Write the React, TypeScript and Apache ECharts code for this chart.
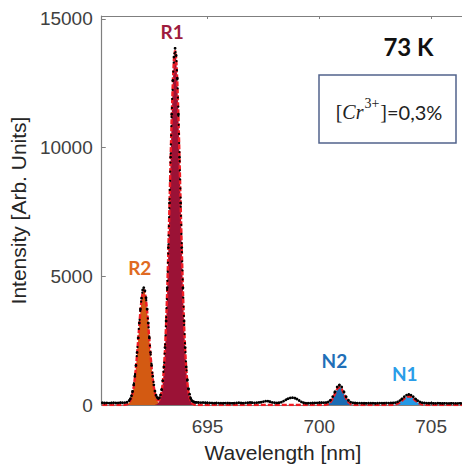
import React, { useEffect, useRef } from "react";
import * as echarts from "echarts";

// Measured luminescence spectrum at 73 K: [wavelength (nm), intensity]
const measured: [number, number][] = [
  [690.3, 85], [690.4, 78], [690.5, 82], [690.6, 74], [690.7, 80], [690.8, 88], [690.9, 79],
  [691.0, 84], [691.1, 90], [691.2, 86], [691.3, 92], [691.4, 106], [691.5, 173],
  [691.55, 245], [691.6, 360], [691.65, 532], [691.7, 779], [691.75, 1115], [691.8, 1536],
  [691.85, 2042], [691.9, 2607], [691.95, 3185], [692.0, 3727], [692.05, 4150], [692.1, 4470],
  [692.15, 4560], [692.2, 4440], [692.25, 4166], [692.3, 3727], [692.35, 3185], [692.4, 2607],
  [692.45, 2044], [692.5, 1537], [692.55, 1116], [692.6, 783], [692.65, 540], [692.7, 378],
  [692.75, 290], [692.8, 252], [692.85, 284], [692.9, 393], [692.95, 601], [693.0, 947],
  [693.05, 1475], [693.1, 2231], [693.15, 3263], [693.2, 4559], [693.25, 6116], [693.3, 7852],
  [693.35, 9630], [693.4, 11297], [693.45, 12610], [693.5, 13520], [693.55, 13860], [693.6, 13580],
  [693.65, 12700], [693.7, 11297], [693.75, 9630], [693.8, 7852], [693.85, 6116], [693.9, 4559],
  [693.95, 3263], [694.0, 2231], [694.05, 1480], [694.1, 960], [694.15, 620], [694.2, 420],
  [694.25, 250], [694.3, 175], [694.35, 140], [694.4, 118], [694.45, 105], [694.5, 100],
  [694.6, 98], [694.7, 92], [694.8, 95], [694.9, 88], [695.0, 84], [695.1, 80], [695.2, 76],
  [695.3, 72], [695.4, 78], [695.5, 70], [695.6, 74], [695.7, 68], [695.8, 72], [695.9, 76],
  [696.0, 70], [696.1, 66], [696.2, 72], [696.3, 80], [696.4, 86], [696.5, 78], [696.6, 72],
  [696.7, 80], [696.8, 88], [696.9, 96], [697.0, 90], [697.1, 84], [697.2, 92], [697.3, 100],
  [697.4, 110], [697.5, 130], [697.6, 150], [697.7, 150], [697.8, 125], [697.9, 100],
  [698.0, 88], [698.1, 82], [698.2, 90], [698.3, 110], [698.4, 150], [698.5, 200], [698.6, 245],
  [698.7, 275], [698.8, 285], [698.9, 270], [699.0, 230], [699.1, 175], [699.2, 120],
  [699.3, 85], [699.4, 70], [699.5, 68], [699.6, 72], [699.7, 78], [699.8, 80], [699.9, 84],
  [700.0, 88], [700.1, 90], [700.2, 92], [700.3, 95], [700.4, 118], [700.5, 190], [700.6, 325],
  [700.7, 520], [700.8, 700], [700.9, 778], [701.0, 700], [701.1, 515], [701.2, 320],
  [701.3, 185], [701.4, 112], [701.5, 85], [701.6, 78], [701.7, 72], [701.8, 70], [701.9, 74],
  [702.0, 68], [702.1, 66], [702.2, 70], [702.3, 72], [702.4, 68], [702.5, 64], [702.6, 70],
  [702.7, 74], [702.8, 70], [702.9, 72], [703.0, 76], [703.1, 74], [703.2, 80], [703.3, 80],
  [703.4, 92], [703.5, 120], [703.6, 170], [703.7, 240], [703.8, 320], [703.9, 385],
  [704.0, 410], [704.1, 385], [704.2, 320], [704.3, 238], [704.4, 168], [704.5, 118],
  [704.6, 90], [704.7, 78], [704.8, 72], [704.9, 68], [705.0, 70], [705.1, 66], [705.2, 64],
  [705.3, 68], [705.4, 66], [705.5, 62], [705.6, 66], [705.7, 64], [705.8, 62], [705.9, 66],
  [706.0, 64], [706.1, 62], [706.2, 64], [706.3, 66], [706.4, 62],
];

// Fitted components
const r2Fit: [number, number][] = [
  [691.3, 6], [691.35, 13], [691.4, 26], [691.45, 50], [691.5, 93], [691.55, 165], [691.6, 280],
  [691.65, 452], [691.7, 699], [691.75, 1035], [691.8, 1456], [691.85, 1962], [691.9, 2527],
  [691.95, 3105], [692.0, 3647], [692.05, 4086], [692.1, 4377], [692.15, 4480], [692.2, 4377],
  [692.25, 4086], [692.3, 3647], [692.35, 3105], [692.4, 2527], [692.45, 1962], [692.5, 1456],
  [692.55, 1035], [692.6, 699], [692.65, 452], [692.7, 280], [692.75, 165], [692.8, 93],
  [692.85, 50], [692.9, 26], [692.95, 13], [693.0, 6],
];

const r1Fit: [number, number][] = [
  [692.65, 8], [692.7, 18], [692.75, 39], [692.8, 79], [692.85, 154], [692.9, 287], [692.95, 508],
  [693.0, 861], [693.05, 1392], [693.1, 2150], [693.15, 3183], [693.2, 4479], [693.25, 6036],
  [693.3, 7772], [693.35, 9550], [693.4, 11217], [693.45, 12567], [693.5, 13463], [693.55, 13780],
  [693.6, 13463], [693.65, 12567], [693.7, 11217], [693.75, 9550], [693.8, 7772], [693.85, 6036],
  [693.9, 4479], [693.95, 3183], [694.0, 2150], [694.05, 1392], [694.1, 861], [694.15, 508],
  [694.2, 287], [694.25, 154], [694.3, 79], [694.35, 39], [694.4, 18], [694.45, 8],
];

const n2Fit: [number, number][] = [
  [700.3, 11], [700.4, 39], [700.5, 111], [700.6, 248], [700.7, 441], [700.8, 624], [700.9, 700],
  [701.0, 624], [701.1, 441], [701.2, 248], [701.3, 111], [701.4, 39], [701.5, 11],
];

const n1Fit: [number, number][] = [
  [703.3, 8], [703.4, 21], [703.5, 50], [703.6, 99], [703.7, 170], [703.8, 250], [703.9, 315],
  [704.0, 340], [704.1, 315], [704.2, 250], [704.3, 170], [704.4, 99], [704.5, 50],
  [704.6, 21], [704.7, 8],
];

const xTicks = [695, 700, 705];
const yTicks = [0, 5000, 10000, 15000];
const X_MIN = 690.27;
const X_MAX = 706.47;
const Y_MAX = 15115;

// Total fit: sum of all components on the union of their wavelength grids
function buildFitTotal(): [number, number][] {
  const key = (x: number) => x.toFixed(2);
  const sums = new Map<string, number>();
  const xs = new Map<string, number>();
  for (const [x] of measured) { sums.set(key(x), 0); xs.set(key(x), x); }
  for (const comp of [r2Fit, r1Fit, n2Fit, n1Fit]) {
    for (const [x, y] of comp) {
      const k = key(x);
      xs.set(k, x);
      sums.set(k, (sums.get(k) || 0) + y);
    }
  }
  return Array.from(xs.entries())
    .map(([k, x]) => [x, sums.get(k) || 0] as [number, number])
    .sort((a, b) => a[0] - b[0]);
}

const axisFont = '"Liberation Sans", Arial, Helvetica, sans-serif';
const labelFont = 'Lato, "Open Sans", sans-serif';
const serifFont = '"Liberation Serif", "DejaVu Serif", serif';
const axisGray = "#7f7f7f";

function peakSeries(name: string, data: [number, number][], fill: string, labelColor: string,
  peak: [number, number], offset: [number, number]) {
  return {
    name,
    type: "line",
    data,
    z: 1,
    showSymbol: false,
    lineStyle: { width: 0 },
    areaStyle: { color: fill, opacity: 1 },
    markPoint: {
      symbol: "circle",
      symbolSize: 1,
      itemStyle: { color: "rgba(0,0,0,0)" },
      data: [{ coord: peak }],
      label: {
        show: true,
        position: "inside",
        offset,
        formatter: name,
        color: labelColor,
        fontFamily: labelFont,
        fontWeight: "bold",
        fontSize: 19,
      },
    },
  };
}

export default function App() {
  const ref = useRef<HTMLDivElement>(null);

  useEffect(() => {
    if (!ref.current) return;
    const chart = echarts.init(ref.current, undefined, { renderer: "svg" });
    const fitTotal = buildFitTotal();

    chart.setOption({
      animation: false,
      backgroundColor: "#ffffff",
      grid: { left: 101, right: 8, top: 16, bottom: 59.5 },
      xAxis: [
        {
          type: "value",
          min: X_MIN,
          max: X_MAX,
          position: "bottom",
          name: "Wavelength [nm]",
          nameLocation: "middle",
          nameGap: 37,
          nameTextStyle: { fontFamily: axisFont, fontSize: 21, color: "#262626" },
          axisLine: { show: true, onZero: false, lineStyle: { color: axisGray, width: 1.2 } },
          axisTick: { show: true, inside: true, length: 4, customValues: xTicks, lineStyle: { color: axisGray } },
          axisLabel: { customValues: xTicks, margin: 12, fontSize: 19, color: "#404040", fontFamily: axisFont,
            formatter: (v: number) => String(v) },
          splitLine: { show: false },
        },
        {
          type: "value",
          min: X_MIN,
          max: X_MAX,
          position: "top",
          axisLine: { show: true, onZero: false, lineStyle: { color: axisGray, width: 1.2 } },
          axisTick: { show: true, inside: true, length: 3, customValues: xTicks, lineStyle: { color: axisGray } },
          axisLabel: { show: false },
          splitLine: { show: false },
        },
      ],
      yAxis: {
        type: "value",
        min: 0,
        max: Y_MAX,
        name: "Intensity [Arb. Units]",
        nameLocation: "middle",
        nameGap: 62,
        nameRotate: 90,
        nameTextStyle: { fontFamily: axisFont, fontSize: 21, color: "#262626" },
        axisLine: { show: true, onZero: false, lineStyle: { color: axisGray, width: 1.2 } },
        axisTick: { show: true, inside: true, length: 4, customValues: yTicks, lineStyle: { color: axisGray } },
        axisLabel: { customValues: yTicks, margin: 9, fontSize: 19, color: "#404040", fontFamily: axisFont,
          formatter: (v: number) => String(v) },
        splitLine: { show: false },
      },
      series: [
        peakSeries("R2", r2Fit, "#d35a12", "#e06a22", [692.15, 4480], [-4, -22]),
        peakSeries("R1", r1Fit, "#9b1236", "#9e1b3d", [693.55, 13780], [-3, -19]),
        peakSeries("N2", n2Fit, "#1a6cb4", "#1f6fb8", [700.9, 700], [-5, -26]),
        peakSeries("N1", n1Fit, "#2399e6", "#2a9de8", [704.0, 340], [-4, -23]),
        {
          name: "Fit",
          type: "line",
          data: fitTotal,
          z: 2,
          showSymbol: false,
          lineStyle: { color: "#f01c24", width: 2.4, type: [5, 2] },
        },
        {
          name: "Data",
          type: "line",
          data: measured,
          z: 3,
          showSymbol: true,
          symbol: "circle",
          symbolSize: 2.8,
          itemStyle: { color: "#000000", borderWidth: 0 },
          lineStyle: { color: "#000000", width: 2.2, type: [0.1, 9], cap: "round" },
        },
      ],
      graphic: [
        {
          type: "text",
          x: 408.5,
          y: 46,
          style: {
            text: "73 K",
            fontFamily: labelFont,
            fontWeight: "bold",
            fontSize: 24,
            fill: "#111111",
            align: "center",
            verticalAlign: "middle",
            textAlign: "center",
            textVerticalAlign: "middle",
          },
        },
        {
          type: "rect",
          shape: { x: 319, y: 75, width: 137, height: 68 },
          style: { fill: "#ffffff", stroke: "#51638c", lineWidth: 1.5 },
        },
        {
          type: "text",
          x: 389,
          y: 109,
          style: {
            text: "{br|[}{it|Cr}{sup|3+}{br|]}{tx|=0,3%}",
            align: "center",
            verticalAlign: "middle",
            textAlign: "center",
            textVerticalAlign: "middle",
            rich: {
              br: { fontFamily: serifFont, fontSize: 20, fill: "#222", lineHeight: 26, verticalAlign: "bottom" },
              it: { fontFamily: serifFont, fontStyle: "italic", fontSize: 20, fill: "#222", lineHeight: 26, verticalAlign: "bottom" },
              sup: { fontFamily: serifFont, fontSize: 14, fill: "#222", lineHeight: 26, verticalAlign: "top", padding: [0, 1, 0, 1] },
              tx: { fontFamily: labelFont, fontSize: 20, fill: "#222", lineHeight: 26, verticalAlign: "bottom" },
            },
          },
        },
      ],
    });

    return () => chart.dispose();
  }, []);

  return (
    <div style={{ position: "fixed", left: 0, top: 0, width: 462, height: 468, overflow: "hidden", background: "#fff" }}>
      <div ref={ref} style={{ width: 472, height: 468 }} />
    </div>
  );
}
